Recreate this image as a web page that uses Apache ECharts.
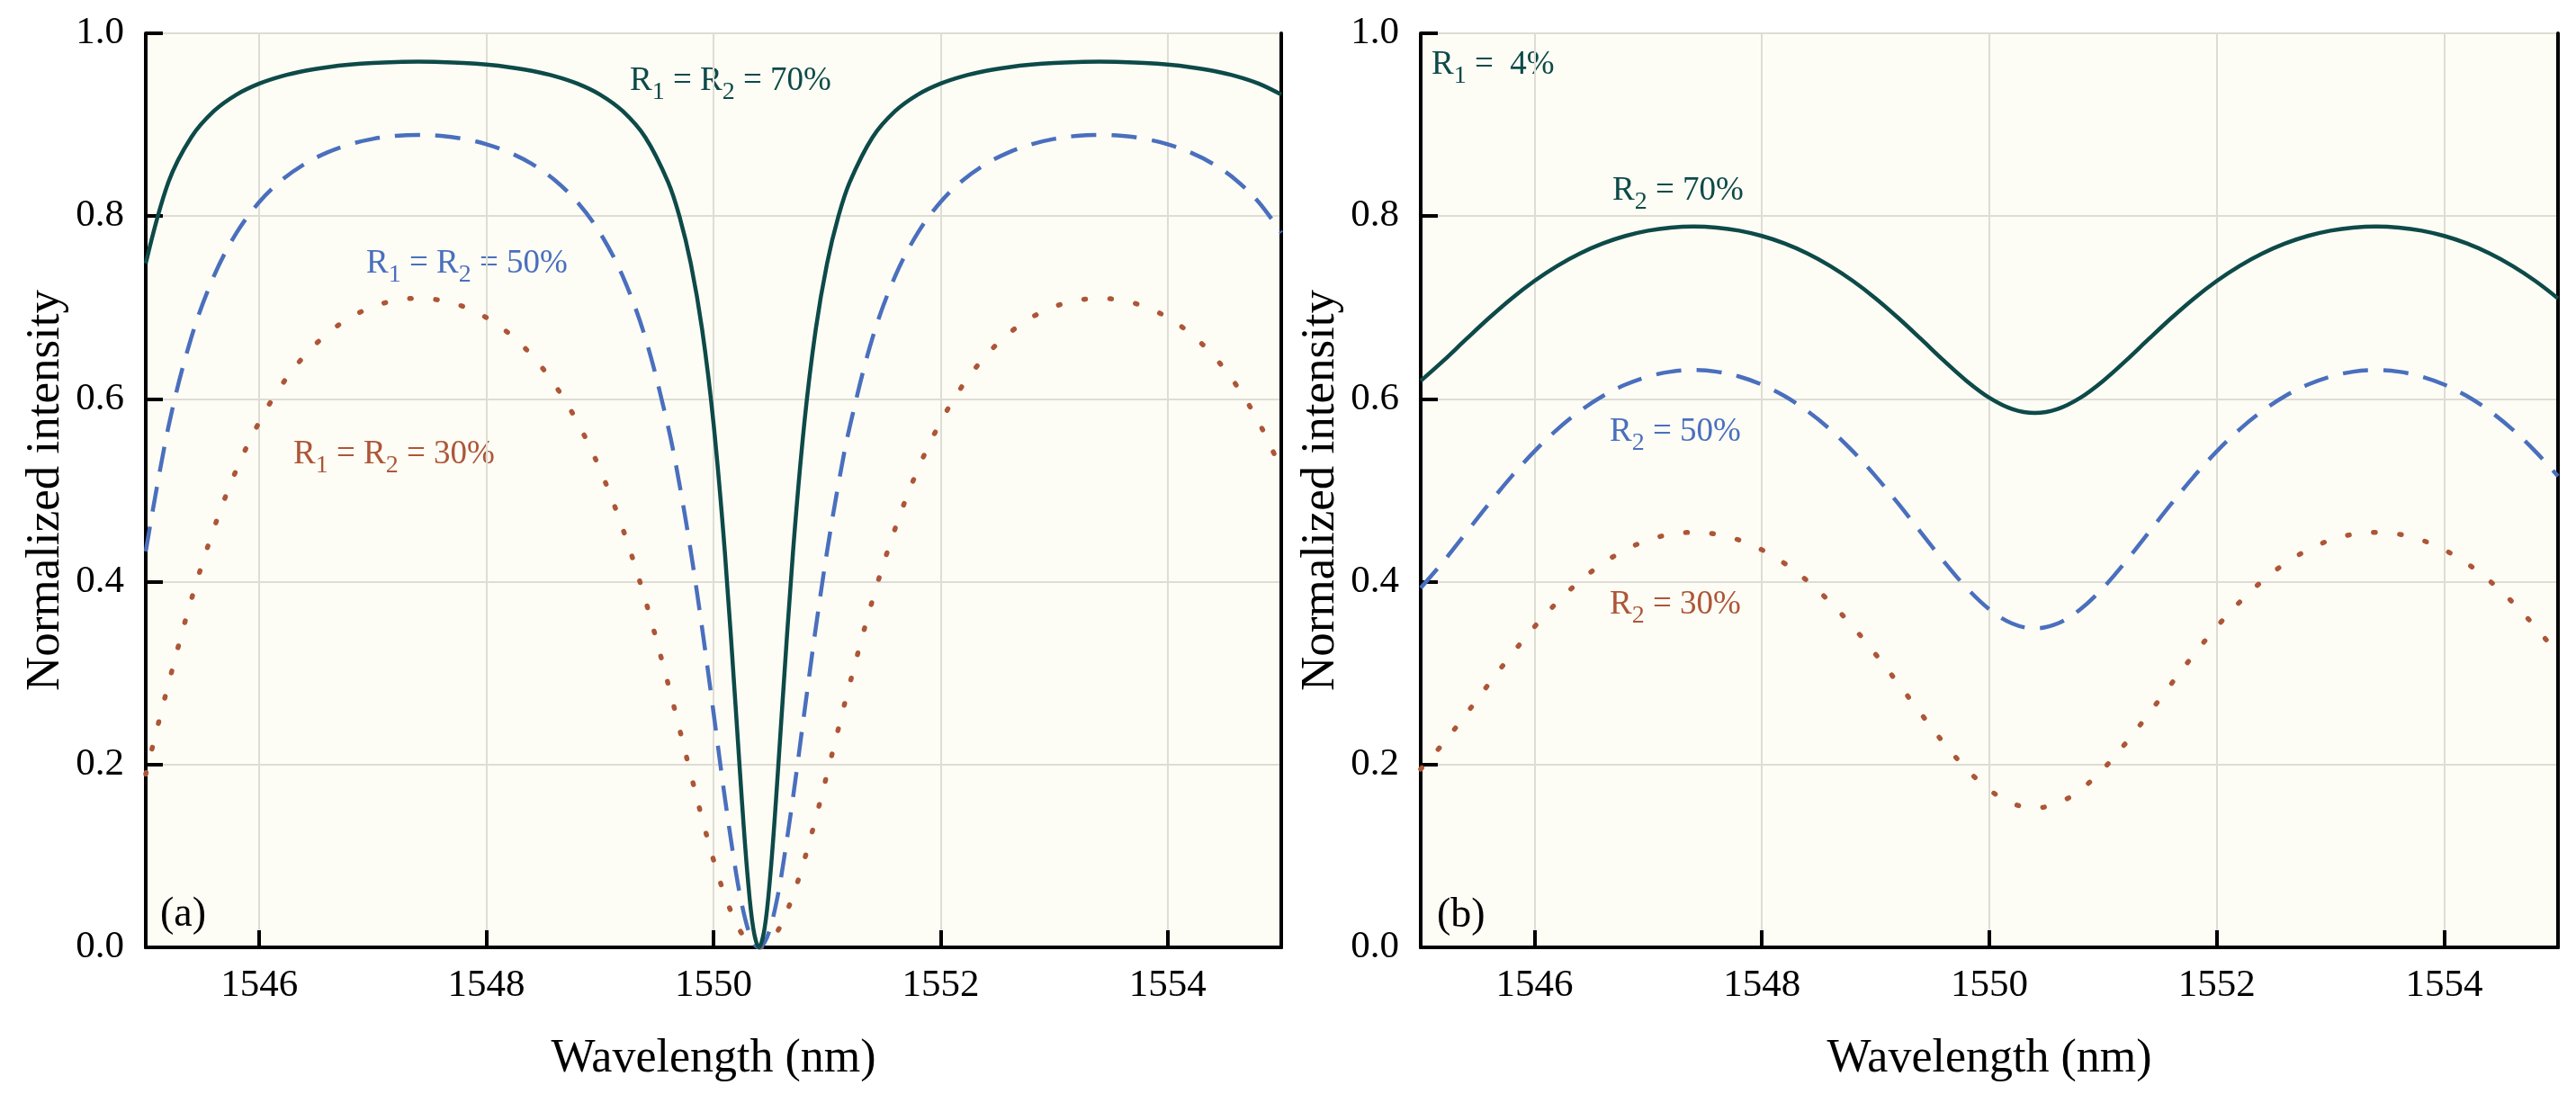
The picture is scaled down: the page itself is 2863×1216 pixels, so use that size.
<!DOCTYPE html>
<html>
<head>
<meta charset="utf-8">
<title>Normalized intensity vs wavelength</title>
<script src="https://cdn.jsdelivr.net/npm/echarts@6.0.0/dist/echarts.min.js"></script>
<style>
  html, body { margin: 0; padding: 0; background: #ffffff; }
  #chart { width: 2863px; height: 1216px; }
</style>
</head>
<body>
<div id="chart"></div>
<script>
// wavelength samples (nm), denser around the dip for panel (a)
const wavelengthA = [
  1545.0, 1545.2, 1545.4, 1545.6, 1545.8, 1546.0, 1546.2, 1546.4, 1546.6, 1546.8, 1547.0, 1547.2, 1547.4,
  1547.6, 1547.8, 1548.0, 1548.2, 1548.4, 1548.6, 1548.8, 1549.0, 1549.2, 1549.4, 1549.6,
  1549.7, 1549.8, 1549.9, 1550.0, 1550.1, 1550.2, 1550.25, 1550.3, 1550.35, 1550.4,
  1550.45, 1550.5, 1550.55, 1550.6, 1550.7, 1550.8, 1550.9, 1551.0, 1551.1, 1551.2,
  1551.4, 1551.6, 1551.8, 1552.0, 1552.2, 1552.4, 1552.6, 1552.8, 1553.0, 1553.2, 1553.4,
  1553.6, 1553.8, 1554.0, 1554.2, 1554.4, 1554.6, 1554.8, 1555.0
];
// (a) R1 = R2 = 70 / 50 / 30 %
const r70a = [
  0.7482, 0.8373, 0.8861, 0.9149, 0.9330, 0.9450, 0.9532, 0.9589, 0.9629, 0.9657, 0.9675, 0.9685, 0.9689,
  0.9685, 0.9675, 0.9657, 0.9629, 0.9589, 0.9532, 0.9450, 0.9330, 0.9149, 0.8861, 0.8373,
  0.7998, 0.7482, 0.6758, 0.5735, 0.4323, 0.2537, 0.1607, 0.0785, 0.0209, 0,
  0.0209, 0.0785, 0.1607, 0.2537, 0.4323, 0.5735, 0.6758, 0.7482, 0.7998, 0.8373,
  0.8861, 0.9149, 0.9330, 0.9450, 0.9532, 0.9589, 0.9629, 0.9657, 0.9675, 0.9685, 0.9689,
  0.9685, 0.9675, 0.9657, 0.9629, 0.9589, 0.9532, 0.9450, 0.9330
];
const r50a = [
  0.4331, 0.5696, 0.6667, 0.7343, 0.7818, 0.8154, 0.8396, 0.8571, 0.8697, 0.8786, 0.8845, 0.8878, 0.8889,
  0.8878, 0.8845, 0.8786, 0.8697, 0.8571, 0.8396, 0.8154, 0.7818, 0.7343, 0.6667, 0.5696,
  0.5068, 0.4331, 0.3489, 0.2570, 0.1637, 0.0804, 0.0469, 0.0214, 0.0055, 0,
  0.0055, 0.0214, 0.0469, 0.0804, 0.1637, 0.2570, 0.3489, 0.4331, 0.5068, 0.5696,
  0.6667, 0.7343, 0.7818, 0.8154, 0.8396, 0.8571, 0.8697, 0.8786, 0.8845, 0.8878, 0.8889,
  0.8878, 0.8845, 0.8786, 0.8697, 0.8571, 0.8396, 0.8154, 0.7818
];
const r30a = [
  0.1895, 0.2883, 0.3798, 0.4583, 0.5230, 0.5749, 0.6158, 0.6475, 0.6715, 0.6890, 0.7009, 0.7078, 0.7101,
  0.7078, 0.7009, 0.6890, 0.6715, 0.6475, 0.6158, 0.5749, 0.5230, 0.4583, 0.3798, 0.2883,
  0.2393, 0.1895, 0.1409, 0.0957, 0.0565, 0.0261, 0.0149, 0.0067, 0.0017, 0,
  0.0017, 0.0067, 0.0149, 0.0261, 0.0565, 0.0957, 0.1409, 0.1895, 0.2393, 0.2883,
  0.3798, 0.4583, 0.5230, 0.5749, 0.6158, 0.6475, 0.6715, 0.6890, 0.7009, 0.7078, 0.7101,
  0.7078, 0.7009, 0.6890, 0.6715, 0.6475, 0.6158, 0.5749, 0.5230
];

const wavelengthB = [
  1545.0, 1545.2, 1545.4, 1545.6, 1545.8, 1546.0, 1546.2, 1546.4, 1546.6, 1546.8, 1547.0, 1547.2, 1547.4,
  1547.6, 1547.8, 1548.0, 1548.2, 1548.4, 1548.6, 1548.8, 1549.0, 1549.2, 1549.4, 1549.6, 1549.8, 1550.0, 1550.2, 1550.4,
  1550.6, 1550.8, 1551.0, 1551.2, 1551.4, 1551.6, 1551.8, 1552.0, 1552.2, 1552.4, 1552.6, 1552.8, 1553.0, 1553.2, 1553.4,
  1553.6, 1553.8, 1554.0, 1554.2, 1554.4, 1554.6, 1554.8, 1555.0
];
// (b) R1 = 4 %, R2 = 70 / 50 / 30 %
const r70b = [
  0.6197, 0.6418, 0.6654, 0.6885, 0.7100, 0.7291, 0.7455, 0.7591, 0.7700, 0.7783, 0.7841, 0.7875, 0.7887,
  0.7875, 0.7841, 0.7783, 0.7700, 0.7591, 0.7455, 0.7291, 0.7100, 0.6885, 0.6654, 0.6418, 0.6197, 0.6013, 0.5890, 0.5846,
  0.5890, 0.6013, 0.6197, 0.6418, 0.6654, 0.6885, 0.7100, 0.7291, 0.7455, 0.7591, 0.7700, 0.7783, 0.7841, 0.7875, 0.7887,
  0.7875, 0.7841, 0.7783, 0.7700, 0.7591, 0.7455, 0.7291, 0.7100
];
const r50b = [
  0.3933, 0.4222, 0.4537, 0.4853, 0.5154, 0.5427, 0.5666, 0.5867, 0.6031, 0.6156, 0.6245, 0.6298, 0.6316,
  0.6298, 0.6245, 0.6156, 0.6031, 0.5867, 0.5666, 0.5427, 0.5154, 0.4853, 0.4537, 0.4222, 0.3933, 0.3698, 0.3543, 0.3489,
  0.3543, 0.3698, 0.3933, 0.4222, 0.4537, 0.4853, 0.5154, 0.5427, 0.5666, 0.5867, 0.6031, 0.6156, 0.6245, 0.6298, 0.6316,
  0.6298, 0.6245, 0.6156, 0.6031, 0.5867, 0.5666, 0.5427, 0.5154
];
const r30b = [
  0.1950, 0.2235, 0.2554, 0.2884, 0.3206, 0.3507, 0.3776, 0.4008, 0.4200, 0.4349, 0.4456, 0.4520, 0.4541,
  0.4520, 0.4456, 0.4349, 0.4200, 0.4008, 0.3776, 0.3507, 0.3206, 0.2884, 0.2554, 0.2235, 0.1950, 0.1723, 0.1576, 0.1525,
  0.1576, 0.1723, 0.1950, 0.2235, 0.2554, 0.2884, 0.3206, 0.3507, 0.3776, 0.4008, 0.4200, 0.4349, 0.4456, 0.4520, 0.4541,
  0.4520, 0.4456, 0.4349, 0.4200, 0.4008, 0.3776, 0.3507, 0.3206
];

const xTicks = [1546, 1548, 1550, 1552, 1554];

const FONT = "Liberation Serif";
const TEAL = "#0d4a48";
const BLUE = "#4a6fbd";
const BROWN = "#ad5637";
const GRID_LINE = "#dddcd5";

const pairs = (xs, ys) => xs.map((x, i) => [x, ys[i]]);

function xAxisOf(gridIndex) {
  return {
    type: "value",
    gridIndex,
    min: 1545,
    max: 1555,
    name: "Wavelength (nm)",
    nameLocation: "middle",
    nameGap: 98,
    nameTextStyle: { fontFamily: FONT, fontSize: 52, color: "#000" },
    axisLine: { show: true, lineStyle: { color: "#000", width: 4 } },
    axisTick: { show: true, inside: true, length: 19, customValues: xTicks, lineStyle: { color: "#000", width: 4 } },
    axisLabel: { customValues: xTicks, fontFamily: FONT, fontSize: 43, color: "#000", margin: 21, formatter: v => String(v) },
    splitLine: { show: true, lineStyle: { color: GRID_LINE, width: 2 } },
  };
}

function yAxisOf(gridIndex) {
  return {
    type: "value",
    gridIndex,
    min: 0,
    max: 1,
    interval: 0.2,
    name: "Normalized intensity",
    nameLocation: "middle",
    nameGap: 84,
    nameTextStyle: { fontFamily: FONT, fontSize: 53, color: "#000" },
    axisLine: { show: true, lineStyle: { color: "#000", width: 4 } },
    axisTick: { show: true, inside: true, length: 19, lineStyle: { color: "#000", width: 4 } },
    axisLabel: { fontFamily: FONT, fontSize: 43, color: "#000", margin: 24, formatter: v => v.toFixed(1) },
    splitLine: { show: true, lineStyle: { color: GRID_LINE, width: 2 } },
  };
}

// plain frame lines on the top and right of each panel
function frameX(gridIndex) {
  return {
    type: "value", gridIndex, position: "top", min: 1545, max: 1555,
    axisLine: { show: true, lineStyle: { color: "#000", width: 4 } },
    axisTick: { show: false }, axisLabel: { show: false }, splitLine: { show: false },
  };
}
function frameY(gridIndex) {
  return {
    type: "value", gridIndex, position: "right", min: 0, max: 1,
    axisLine: { show: true, lineStyle: { color: "#000", width: 4 } },
    axisTick: { show: false }, axisLabel: { show: false }, splitLine: { show: false },
  };
}

function curve(name, idx, xs, ys, color, kind) {
  const lineStyle = { color, width: 4.5 };
  if (kind === "dashed") { lineStyle.type = [28, 17]; }
  if (kind === "dotted") { lineStyle.type = [2, 27]; lineStyle.cap = "round"; lineStyle.width = 5.5; }
  return {
    name,
    type: "line",
    xAxisIndex: idx,
    yAxisIndex: idx,
    showSymbol: false,
    symbol: "none",
    smooth: 0.35,
    lineStyle,
    data: pairs(xs, ys),
  };
}

// text labels with subscripts, pieces laid out with measured widths
const measureCtx = document.createElement("canvas").getContext("2d");
function textWidth(t, size) {
  measureCtx.font = `${size}px "${FONT}"`;
  return measureCtx.measureText(t).width;
}

function note(x, y, pieces, color) {
  const BASE = 37, SUB = 28;
  let off = 0;
  const children = pieces.map(([t, sub]) => {
    const size = sub ? SUB : BASE;
    const el = {
      type: "text",
      x: off,
      y: sub ? 13 : 0,
      style: { text: t, fontFamily: FONT, fontSize: size, fill: color, align: "left", verticalAlign: "middle" },
    };
    off += textWidth(t, size);
    return el;
  });
  return { type: "group", x, y, z: 100, children };
}

function plain(x, y, text) {
  return {
    type: "text",
    x, y,
    z: 100,
    style: { text, fontFamily: FONT, fontSize: 46, fill: "#000", align: "left", verticalAlign: "middle" },
  };
}

const chart = echarts.init(document.getElementById("chart"), null, { renderer: "canvas" });

chart.setOption({
  backgroundColor: "#ffffff",
  animation: false,
  grid: [
    { left: 162, top: 37, width: 1262, height: 1016, show: true, backgroundColor: "#fdfdf6", borderWidth: 0 },
    { left: 1579, top: 37, width: 1264, height: 1016, show: true, backgroundColor: "#fdfdf6", borderWidth: 0 },
  ],
  xAxis: [xAxisOf(0), xAxisOf(1), frameX(0), frameX(1)],
  yAxis: [yAxisOf(0), yAxisOf(1), frameY(0), frameY(1)],
  series: [
    curve("R1 = R2 = 30%", 0, wavelengthA, r30a, BROWN, "dotted"),
    curve("R1 = R2 = 50%", 0, wavelengthA, r50a, BLUE, "dashed"),
    curve("R1 = R2 = 70%", 0, wavelengthA, r70a, TEAL, "solid"),
    curve("R2 = 30%", 1, wavelengthB, r30b, BROWN, "dotted"),
    curve("R2 = 50%", 1, wavelengthB, r50b, BLUE, "dashed"),
    curve("R2 = 70%", 1, wavelengthB, r70b, TEAL, "solid"),
  ],
  graphic: [
    note(700, 90, [["R"], ["1", true], [" = R"], ["2", true], [" = 70%"]], TEAL),
    note(407, 293, [["R"], ["1", true], [" = R"], ["2", true], [" = 50%"]], BLUE),
    note(326, 505, [["R"], ["1", true], [" = R"], ["2", true], [" = 30%"]], BROWN),
    note(1591, 72, [["R"], ["1", true], [" =  4%"]], TEAL),
    note(1792, 212, [["R"], ["2", true], [" = 70%"]], TEAL),
    note(1789, 480, [["R"], ["2", true], [" = 50%"]], BLUE),
    note(1789, 672, [["R"], ["2", true], [" = 30%"]], BROWN),
    plain(178, 1017, "(a)"),
    plain(1597, 1018, "(b)"),
  ],
});

window.addEventListener("resize", () => chart.resize());
</script>
</body>
</html>
